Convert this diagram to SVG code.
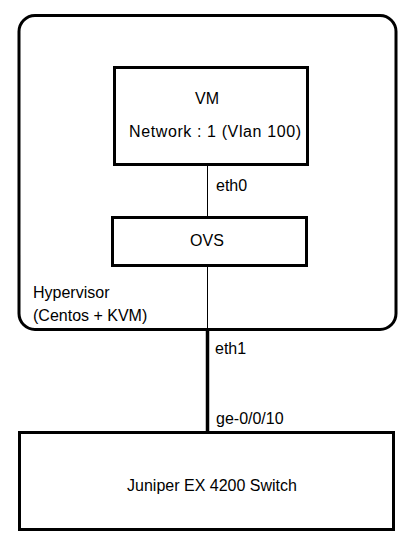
<svg xmlns="http://www.w3.org/2000/svg" width="405" height="542" viewBox="0 0 405 542">
<style>
.box{fill:#fff;stroke:#000;stroke-width:3}
.t{font-family:"Liberation Sans",Arial,sans-serif;font-size:16px;fill:#000}
.c{text-anchor:middle}
.thin{stroke:#000;stroke-width:1;fill:none}
.thick{stroke:#000;stroke-width:3.5;fill:none}
</style>
<rect width="405" height="542" fill="#fff"/>
<g id="hypervisor">
<rect class="box" x="19" y="15.5" width="377" height="314" rx="16"/>
<text class="t" x="33" y="298">Hypervisor</text>
<text class="t" x="33" y="321">(Centos + KVM)</text>
</g>
<g id="connectors">
<line class="thin" x1="207.5" y1="165" x2="207.5" y2="217"/>
<line class="thin" x1="207.5" y1="266" x2="207.5" y2="330"/>
<line class="thick" x1="207.5" y1="330" x2="207.5" y2="432"/>
<text class="t" x="216" y="191">eth0</text>
<text class="t" x="215" y="354">eth1</text>
<text class="t" x="216" y="424">ge-0/0/10</text>
</g>
<g id="vm">
<rect class="box" x="114.5" y="67.5" width="193" height="97"/>
<text class="t c" x="207" y="104">VM</text>
<text class="t" x="129" y="137" textLength="172">Network : 1 (Vlan 100)</text>
</g>
<g id="ovs">
<rect class="box" x="112.5" y="217.5" width="194" height="48"/>
<text class="t c" x="207" y="246">OVS</text>
</g>
<g id="switch">
<rect class="box" x="19.5" y="432.5" width="374" height="97"/>
<text class="t c" x="212" y="491">Juniper EX 4200 Switch</text>
</g>
</svg>
